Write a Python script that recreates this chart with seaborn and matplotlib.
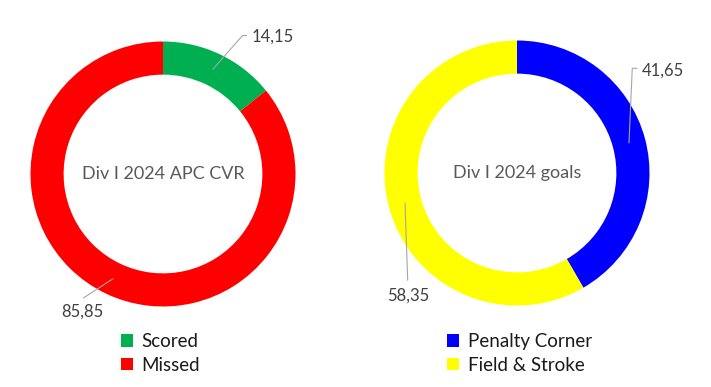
import numpy as np
import matplotlib
matplotlib.use("Agg")
import matplotlib.pyplot as plt
import seaborn as sns
from matplotlib.patches import Patch

sns.set_theme(style="white")
plt.rcParams['font.family'] = ['Lato', 'DejaVu Sans']

# ---- data ----
left_title = "Div I 2024 APC CVR"
left_labels = ["Scored", "Missed"]
left_values = [14.15, 85.85]
left_colors = ["#00B050", "#FF0000"]

right_title = "Div I 2024 goals"
right_labels = ["Penalty Corner", "Field & Stroke"]
right_values = [41.65, 58.35]
right_colors = ["#0000FF", "#FFFF00"]

W, H = 711, 387
fig = plt.figure(figsize=(W / 100, H / 100), dpi=100)
fig.patch.set_facecolor("white")

R_PX = 132.5
HALF = 150


def make_ax(cx, cy):
    ax = fig.add_axes([(cx - HALF) / W, 1 - (cy + HALF) / H, 2 * HALF / W, 2 * HALF / H])
    return ax


def fix_limits(ax):
    lim = HALF / R_PX
    ax.set_xlim(-lim, lim)
    ax.set_ylim(-lim, lim)
    ax.set_aspect("equal")
    ax.axis("off")


def fmt(v):
    return f"{v:.2f}".replace(".", ",")


def donut(ax, values, colors, title, label_specs):
    wedges, _ = ax.pie(values, colors=colors, startangle=90, counterclock=False,
                       radius=1.0, wedgeprops=dict(width=0.25, edgecolor="none"))
    fix_limits(ax)
    ax.text(0, 0, title, ha="center", va="center", fontsize=13, color="#595959")
    for w, v, spec in zip(wedges, values, label_specs):
        ang = np.deg2rad((w.theta1 + w.theta2) / 2)
        r = 0.875
        p0 = (r * np.cos(ang), r * np.sin(ang))
        p1 = spec["elbow"]
        pts = [p0, p1]
        if spec.get("tail") is not None:
            pts.append(spec["tail"])
        xs, ys = zip(*pts)
        ax.plot(xs, ys, color="#A6A6A6", lw=0.8)
        ax.text(spec["text"][0], spec["text"][1], fmt(v), ha=spec["ha"], va="center",
                fontsize=12, color="#404040")
    return wedges


ax1 = make_ax(163, 174)
w1 = donut(ax1, left_values, left_colors, left_title, [
    dict(elbow=(0.60, 1.045), tail=(0.63, 1.045), text=(0.67, 1.035), ha="left"),
    dict(elbow=(-0.60, -0.935), tail=None, text=(-0.61, -1.035), ha="center"),
])

ax2 = make_ax(517, 173)
w2 = donut(ax2, right_values, right_colors, right_title, [
    dict(elbow=(0.87, 0.79), tail=(0.905, 0.79), text=(0.945, 0.77), ha="left"),
    dict(elbow=(-0.825, -0.81), tail=None, text=(-0.82, -0.925), ha="center"),
])

for labels, colors, x0 in [(left_labels, left_colors, 121), (right_labels, right_colors, 447)]:
    handles = [Patch(facecolor=c, edgecolor="none", label=l) for l, c in zip(labels, colors)]
    fig.legend(handles=handles, loc="upper left", bbox_to_anchor=(x0 / W, 1 - 333 / H),
               frameon=False, fontsize=13.5, handlelength=0.65, handleheight=0.65,
               handletextpad=0.45, labelspacing=0.35, borderpad=0.0, borderaxespad=0.0,
               labelcolor="#1a1a1a")

fig.savefig("out.png", dpi=100, facecolor="white")
